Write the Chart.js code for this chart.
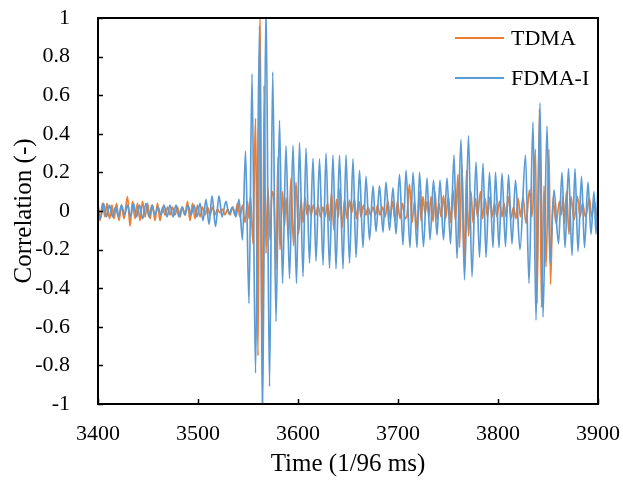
<!DOCTYPE html>
<html>
<head>
<meta charset="utf-8">
<title>Correlation</title>
<script src="https://cdn.jsdelivr.net/npm/chart.js@4.4.0/dist/chart.umd.min.js"></script>
<style>
  html, body { margin: 0; padding: 0; background: #fff; }
  #wrap { width: 623px; height: 481px; }
</style>
</head>
<body>
<div id="wrap"><canvas id="corrChart" width="623" height="481"></canvas></div>
<script>
// tick labels
const xTickLabels = ["3400", "3500", "3600", "3700", "3800", "3900"];
const yTickLabels = ["-1", "-0.8", "-0.6", "-0.4", "-0.2", "0", "0.2", "0.4", "0.6", "0.8", "1"];

const seriesNames = ["TDMA", "FDMA-I"];

// TDMA: [time, correlation] turning points
const tdmaPoints = [
  [3400, 0.04], [3402, -0.05], [3404.5, 0.04], [3407, -0.03], [3409, 0.04], [3411.5, -0.04],
  [3414, 0.03], [3416, -0.04], [3418.5, 0.04], [3421, -0.05], [3423.5, 0.03], [3426, -0.04],
  [3429.5, 0.075], [3432, -0.078], [3434.5, 0.05], [3437, -0.04], [3439.5, 0.04], [3442, -0.05],
  [3444.5, 0.05], [3447, -0.03], [3449.5, 0.04], [3452, -0.04], [3454.5, 0.03], [3457, -0.05],
  [3459.5, 0.04], [3462, -0.05], [3464.5, 0.02], [3467, -0.02], [3469.5, 0.02], [3472, -0.02],
  [3474.5, 0.02], [3477, -0.02], [3479.5, 0.02], [3482, -0.03], [3484.5, 0.02], [3487, -0.02],
  [3489.5, 0.05], [3492, -0.05], [3494.5, 0.04], [3497, -0.04], [3499.5, 0.03], [3502, -0.03],
  [3504.5, 0.02], [3507, -0.02], [3509.5, 0.02], [3512, -0.02], [3514.5, 0.02], [3517, -0.02],
  [3519.5, 0.01], [3522, -0.01], [3524.5, 0.01], [3527, -0.02], [3529.5, 0.01], [3532, -0.02],
  [3534.5, 0.02], [3537, -0.02], [3539.5, 0.04], [3542, -0.03], [3544.5, 0.03], [3547, -0.06],
  [3549.5, 0.05], [3551, -0.04], [3552.5, 0.08], [3555, -0.17], [3557.5, 0.48], [3560, -0.75],
  [3562, 1.05], [3564.5, -1.0], [3566, 0.65], [3568, -0.22], [3570, 0.12], [3572, -0.15],
  [3574, 0.1], [3576, 0.05], [3578, -0.3], [3580, 0.28], [3582, -0.2], [3584.5, 0.1],
  [3586.5, -0.08], [3588, 0.07], [3590.5, -0.15], [3593, 0.17], [3595.5, -0.18], [3598, 0.15],
  [3600.5, -0.12], [3603, 0.06], [3605, -0.06], [3607, 0.07], [3609, -0.02], [3611, 0.03],
  [3613, -0.02], [3615.5, 0.03], [3618, -0.02], [3620, 0.03], [3622.5, -0.03], [3625, 0.02],
  [3627, -0.03], [3629.5, 0.04], [3631.5, -0.05], [3633.5, 0.095], [3636, -0.1], [3638.5, 0.06],
  [3640.5, -0.03], [3642, 0.117], [3644, -0.09], [3646.5, 0.06], [3649, -0.04], [3651.5, 0.055],
  [3653.5, -0.01], [3656.5, 0.06], [3658.5, -0.04], [3661, 0.05], [3663, -0.03], [3665.5, 0.03],
  [3668, -0.02], [3670, 0.02], [3672.5, -0.02], [3675, 0.02], [3677.5, -0.02], [3679.5, 0.03],
  [3682, -0.02], [3684.5, 0.02], [3687, -0.03], [3690, 0.05], [3692, -0.04], [3694.5, 0.05],
  [3697, -0.05], [3699.5, 0.05], [3702, -0.04], [3704.5, 0.04], [3707, -0.04], [3709, -0.02],
  [3711.5, 0.14], [3714, -0.06], [3716.5, 0.05], [3719, -0.1], [3721.5, 0.1], [3723, -0.05],
  [3725, 0.075], [3727, -0.015], [3729, 0.05], [3731, -0.03], [3733, 0.075], [3735, -0.055],
  [3737, 0.1], [3739, -0.045], [3741, 0.04], [3743, -0.03], [3745.5, 0.08], [3747.5, -0.04],
  [3750.5, 0.075], [3752.5, -0.06], [3755, 0.11], [3757.5, -0.05], [3760, 0.19], [3761.5, -0.19],
  [3764, 0.24], [3766.5, -0.29], [3768.5, 0.21], [3770.5, -0.13], [3773, 0.1], [3775, -0.06],
  [3777.5, 0.065], [3779.5, -0.03], [3782.5, 0.1], [3784.5, -0.04], [3787, 0.065], [3789.5, -0.03],
  [3792, 0.075], [3794, -0.03], [3796.5, 0.04], [3799, -0.03], [3801.5, 0.05], [3804, -0.03],
  [3806, 0.04], [3808, -0.03], [3810.5, 0.075], [3813, -0.04], [3815.5, 0.02], [3818, -0.04],
  [3820, 0.065], [3822.5, -0.03], [3825, 0.075], [3828, -0.065], [3831.5, 0.11], [3834, -0.03],
  [3837.5, 0.32], [3839, -0.48], [3841.5, 0.53], [3843.5, -0.5], [3846, 0.13], [3848, -0.29],
  [3851, 0.32], [3852.5, -0.38], [3855, 0.07], [3858, -0.065], [3861.5, 0.05], [3863.5, -0.02],
  [3865, 0.075], [3866.5, -0.065], [3868.5, 0.1], [3871, -0.12], [3873, 0.075], [3876, -0.045],
  [3879.5, 0.075], [3882, -0.03], [3884.5, 0.04], [3887.5, -0.03], [3891.5, 0.065], [3893.5, -0.03],
  [3896.5, 0.05], [3899, -0.045], [3900, 0.0]
];

// FDMA-I: [time, correlation] turning points
const fdmaPoints = [
  [3400, 0.02], [3402.5, -0.04], [3405.5, 0.04], [3408.5, -0.03], [3411.5, 0.03], [3414.5, -0.03],
  [3417.5, 0.02], [3420.5, -0.03], [3423.5, 0.03], [3426.5, -0.02], [3429.5, 0.03], [3432.5, -0.03],
  [3435.5, 0.04], [3438.5, -0.03], [3441.5, 0.03], [3444.5, -0.04], [3448, 0.04], [3451, -0.03],
  [3454, 0.03], [3457, -0.02], [3460, 0.02], [3463, -0.02], [3466, 0.03], [3469, -0.03],
  [3472, 0.03], [3475, -0.03], [3478, 0.03], [3481, -0.03], [3484, 0.02], [3487, -0.02],
  [3490, 0.03], [3493, -0.02], [3496, 0.03], [3499, -0.03], [3502, 0.04], [3505, -0.05],
  [3508, 0.06], [3511, -0.07], [3514, 0.078], [3517.5, -0.08], [3521, 0.078], [3524, -0.03],
  [3528, 0.05], [3531, -0.015], [3534.5, 0.02], [3538, -0.03], [3541, 0.06], [3544.5, -0.15],
  [3547.5, 0.31], [3551, -0.48], [3554, 0.71], [3557.5, -0.84], [3561.5, 0.96], [3564.5, -1.06],
  [3568, 1.08], [3571.5, -0.91], [3574.7, 0.72], [3578, -0.573], [3581.5, 0.47], [3584.5, -0.375],
  [3588, 0.337], [3591.5, -0.35], [3595, 0.34], [3598.5, -0.375], [3601.5, 0.354], [3605, -0.34],
  [3608, 0.325], [3611.5, -0.27], [3615, 0.273], [3618, -0.26], [3621.5, 0.27], [3625, -0.28],
  [3628, 0.3], [3631.5, -0.297], [3635, 0.29], [3638, -0.3], [3641.5, 0.29], [3645, -0.3],
  [3648, 0.29], [3651.5, -0.27], [3655, 0.27], [3658, -0.24], [3661.5, 0.21], [3665, -0.19],
  [3668, 0.18], [3671.5, -0.15], [3675, 0.13], [3678, -0.107], [3681.5, 0.13], [3685, -0.11],
  [3688, 0.15], [3691.5, -0.1], [3695, 0.12], [3698, -0.12], [3701.5, 0.19], [3705, -0.176],
  [3708, 0.21], [3712, -0.19], [3715, 0.2], [3719, -0.19], [3721.5, 0.2], [3725.5, -0.185],
  [3729, 0.17], [3732, -0.15], [3735.5, 0.16], [3739, -0.125], [3742, 0.16], [3745.5, -0.15],
  [3749, 0.17], [3752.5, -0.17], [3756, 0.29], [3759, -0.245], [3763, 0.37], [3766.5, -0.357],
  [3770.5, 0.39], [3774, -0.34], [3778, 0.255], [3781.5, -0.24], [3785, 0.247], [3788, -0.24],
  [3791.5, 0.2], [3795, -0.19], [3797.5, 0.2], [3801, -0.19], [3804, 0.195], [3807.5, -0.185],
  [3810.5, 0.187], [3814, -0.17], [3817.5, 0.16], [3822, -0.2], [3827.5, 0.29], [3831, -0.375],
  [3835, 0.46], [3838, -0.565], [3842, 0.56], [3845, -0.55], [3849, 0.44], [3852, -0.27],
  [3856, 0.11], [3860.5, -0.17], [3864, 0.2], [3867, -0.19], [3870.5, 0.22], [3874, -0.23],
  [3877, 0.22], [3880, -0.21], [3883.5, 0.18], [3886.5, -0.19], [3890, 0.15], [3893, -0.12],
  [3896, 0.1], [3898, -0.12], [3900, 0.13]
];

const toXY = pts => pts.map(p => ({ x: p[0], y: p[1] }));

// frame around the plot + inward tick marks + legend in the top right corner
const framePlugin = {
  id: "frame",
  afterDraw(chart) {
    const { ctx, chartArea: a, scales } = chart;
    ctx.save();
    ctx.strokeStyle = "#000";
    ctx.lineWidth = 1.5;
    ctx.beginPath();
    scales.x.ticks.forEach(t => {
      const px = Math.round(scales.x.getPixelForValue(t.value)) + 0.5;
      ctx.moveTo(px, a.bottom);
      ctx.lineTo(px, a.bottom - 5);
    });
    scales.y.ticks.forEach(t => {
      const py = Math.round(scales.y.getPixelForValue(t.value)) + 0.5;
      ctx.moveTo(a.left, py);
      ctx.lineTo(a.left + 5, py);
    });
    ctx.stroke();
    ctx.lineWidth = 2;
    ctx.strokeRect(a.left, a.top, a.right - a.left, a.bottom - a.top);

    ctx.font = "22px 'Liberation Serif', 'Times New Roman', serif";
    ctx.textBaseline = "middle";
    ctx.textAlign = "left";
    const ds = [chart.data.datasets[1], chart.data.datasets[0]];
    ds.forEach((d, i) => {
      const y = a.top + 20 + i * 40;
      ctx.strokeStyle = d.borderColor;
      ctx.lineWidth = 2;
      ctx.beginPath();
      ctx.moveTo(a.right - 143, y);
      ctx.lineTo(a.right - 94, y);
      ctx.stroke();
      ctx.fillStyle = "#000";
      ctx.fillText(d.label, a.right - 87, y + 1);
    });
    ctx.restore();
  }
};

const serif = "'Liberation Serif', 'Times New Roman', serif";

new Chart(document.getElementById("corrChart"), {
  type: "line",
  data: {
    datasets: [
      {
        label: seriesNames[1],
        data: toXY(fdmaPoints),
        borderColor: "#5B9BD5",
        borderWidth: 1.7,
        pointRadius: 0,
        cubicInterpolationMode: "monotone",
        clip: 0,
        order: 1
      },
      {
        label: seriesNames[0],
        data: toXY(tdmaPoints),
        borderColor: "#ED7D31",
        borderWidth: 1.7,
        pointRadius: 0,
        cubicInterpolationMode: "monotone",
        clip: 0,
        order: 2
      }
    ]
  },
  options: {
    responsive: false,
    animation: false,
    devicePixelRatio: 1,
    layout: { padding: { top: 18, right: 25, bottom: 0, left: 0 } },
    plugins: { legend: { display: false }, tooltip: { enabled: false } },
    scales: {
      x: {
        type: "linear",
        min: 3400,
        max: 3900,
        grid: { display: false },
        border: { display: false },
        ticks: {
          stepSize: 100,
          padding: 9,
          color: "#000",
          font: { family: serif, size: 22 },
          callback: (v) => xTickLabels[Math.round((v - 3400) / 100)]
        },
        title: {
          display: true,
          text: "Time (1/96 ms)",
          color: "#000",
          font: { family: serif, size: 25 },
          padding: { top: 0, bottom: 2 }
        },
        afterFit: (s) => { s.height = 77; s.paddingLeft = 0; s.paddingRight = 0; }
      },
      y: {
        min: -1,
        max: 1,
        grid: { display: false },
        border: { display: false },
        ticks: {
          stepSize: 0.2,
          padding: 20,
          color: "#000",
          font: { family: serif, size: 22 },
          callback: (v) => yTickLabels[Math.round((v + 1) / 0.2)]
        },
        title: {
          display: true,
          text: "Correlation (-)",
          color: "#000",
          font: { family: serif, size: 25 },
          padding: { top: 9, bottom: 0 }
        },
        afterFit: (s) => { s.width = 98; s.paddingTop = 0; s.paddingBottom = 0; }
      }
    }
  },
  plugins: [framePlugin]
});
</script>
</body>
</html>
